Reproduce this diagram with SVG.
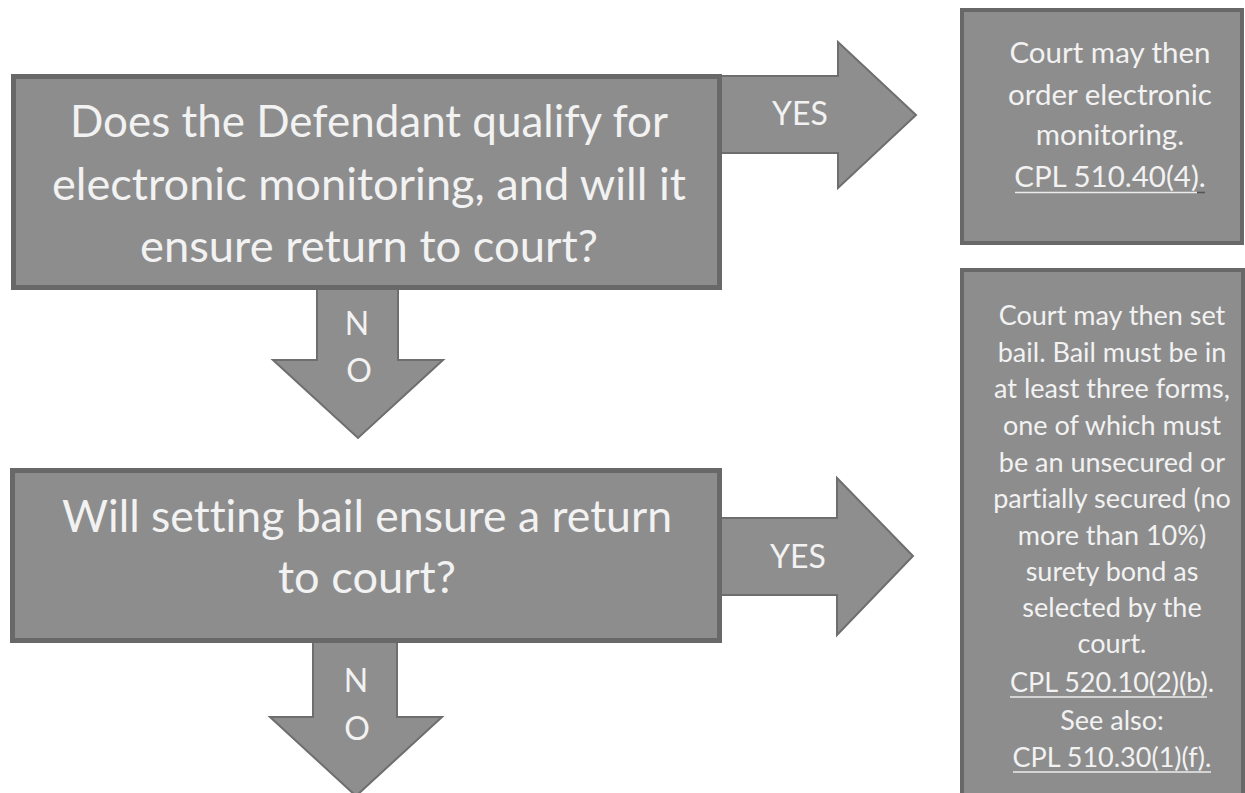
<svg xmlns="http://www.w3.org/2000/svg" width="1245" height="793" viewBox="0 0 1245 793">
  <style>
    .box { fill: #8d8d8d; stroke: #686868; stroke-width: 5; }
    .note { fill: #8d8d8d; stroke: #686868; stroke-width: 4; }
    .arrow { fill: #8e8e8e; stroke: #6e6e6e; stroke-width: 2; stroke-linejoin: miter; }
    text { font-family: Lato, "Open Sans", "Liberation Sans", sans-serif; fill: #f2f2f2; text-anchor: middle; font-variant-ligatures: none; font-feature-settings: "liga" 0; }
    .q { font-size: 45px; }
    .lbl { font-size: 32px; }
    .n1 { font-size: 29.5px; }
    .n2 { font-size: 27px; }
    .ul { stroke: #ececec; stroke-width: 1.6; }
    .ul-dark { stroke: #555555; stroke-width: 1.6; }
  </style>
  <rect width="1245" height="793" fill="#ffffff"/>

  <!-- connectors: block arrows between decisions and outcomes -->
  <g id="connectors">
    <g id="yes-1">
      <polygon class="arrow" points="716,76 838,76 838,42 916,115 838,188 838,153 716,153"/>
      <text class="lbl" x="800" y="125">YES</text>
    </g>
    <g id="no-1">
      <polygon class="arrow" points="317,286 398,286 398,360 443,360 358,438 273,360 317,360"/>
      <text class="lbl" x="357" y="335" font-size="30">N</text>
      <text class="lbl" x="359" y="382" font-size="30">O</text>
    </g>
    <g id="yes-2">
      <polygon class="arrow" points="716,518 837,518 837,478 913,556 837,635 837,595 716,595"/>
      <text class="lbl" x="798" y="568">YES</text>
    </g>
    <g id="no-2">
      <polygon class="arrow" points="313,639 397,639 397,717 442,717 356,796 270,717 313,717"/>
      <text class="lbl" x="356" y="692" font-size="30">N</text>
      <text class="lbl" x="357" y="740" font-size="30">O</text>
    </g>
  </g>

  <!-- decision 1 -->
  <g id="decision-monitoring">
    <rect class="box" x="13.5" y="76.5" width="706" height="211"/>
    <text class="q" x="369" y="137" textLength="598" lengthAdjust="spacingAndGlyphs">Does the Defendant qualify for</text>
    <text class="q" x="369" y="200" textLength="634" lengthAdjust="spacingAndGlyphs">electronic monitoring, and will it</text>
    <text class="q" x="369" y="262" textLength="458" lengthAdjust="spacingAndGlyphs">ensure return to court?</text>
  </g>

  <!-- decision 2 -->
  <g id="decision-bail">
    <rect class="box" x="12.5" y="470.5" width="707" height="170"/>
    <text class="q" x="367" y="532" textLength="610" lengthAdjust="spacingAndGlyphs">Will setting bail ensure a return</text>
    <text class="q" x="367" y="593" textLength="178" lengthAdjust="spacingAndGlyphs">to court?</text>
  </g>

  <!-- outcome: electronic monitoring -->
  <g id="outcome-monitoring">
    <rect class="note" x="962" y="10" width="280" height="233"/>
    <text class="n1" x="1110" y="63">Court may then</text>
    <text class="n1" x="1110" y="105">order electronic</text>
    <text class="n1" x="1110" y="145">monitoring.</text>
    <text class="n1" x="1110" y="187">CPL 510.40(4).</text>
    <line class="ul" x1="1015" y1="192.5" x2="1197" y2="192.5"/>
    <line class="ul-dark" x1="1197" y1="192.5" x2="1205" y2="192.5"/>
  </g>

  <!-- outcome: bail -->
  <g id="outcome-bail">
    <rect class="note" x="962" y="270" width="281" height="540"/>
    <text class="n2" x="1112" y="325">Court may then set</text>
    <text class="n2" x="1112" y="362">bail. Bail must be in</text>
    <text class="n2" x="1112" y="398">at least three forms,</text>
    <text class="n2" x="1112" y="435">one of which must</text>
    <text class="n2" x="1112" y="472">be an unsecured or</text>
    <text class="n2" x="1112" y="508">partially secured (no</text>
    <text class="n2" x="1112" y="545">more than 10%)</text>
    <text class="n2" x="1112" y="581">surety bond as</text>
    <text class="n2" x="1112" y="617">selected by the</text>
    <text class="n2" x="1112" y="653">court.</text>
    <text class="n2" x="1112" y="692">CPL 520.10(2)(b).</text>
    <line class="ul" x1="1010" y1="697" x2="1207" y2="697"/>
    <text class="n2" x="1112" y="730">See also:</text>
    <text class="n2" x="1112" y="767">CPL 510.30(1)(f).</text>
    <line class="ul" x1="1013" y1="772" x2="1211" y2="772"/>
  </g>
</svg>
